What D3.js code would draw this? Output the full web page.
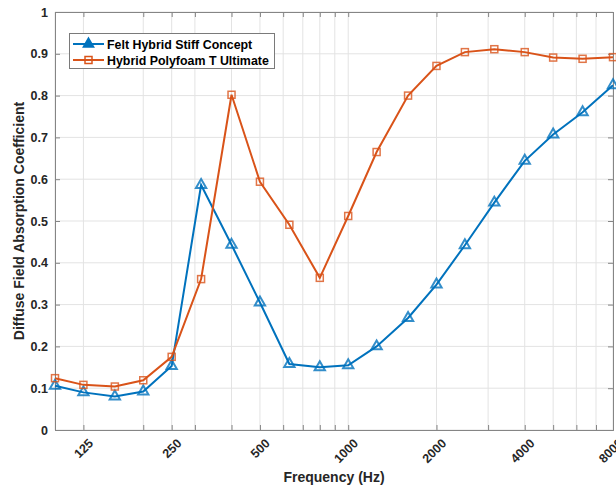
<!DOCTYPE html>
<html><head><meta charset="utf-8">
<script src="https://cdn.jsdelivr.net/npm/d3@7"></script>
<style>body{margin:0;background:#fff;}svg{display:block;font-family:"Liberation Sans",Arial,sans-serif;}</style>
</head><body>
<script>
const frequencies = [100,125,160,200,250,315,400,500,630,800,1000,1250,1600,2000,2500,3150,4000,5000,6300,8000];
const feltHybrid = [0.106,0.090,0.080,0.092,0.153,0.586,0.443,0.305,0.158,0.150,0.155,0.200,0.268,0.348,0.442,0.544,0.644,0.707,0.760,0.825];
const hybridPolyfoam = [0.124,0.108,0.104,0.119,0.175,0.361,0.802,0.594,0.491,0.364,0.512,0.665,0.800,0.871,0.904,0.911,0.904,0.891,0.888,0.892];
const xTickLabels = [125,250,500,1000,2000,4000,8000];
const yTicks = [0,0.1,0.2,0.3,0.4,0.5,0.6,0.7,0.8,0.9,1];
const seriesNames = ["Felt Hybrid Stiff Concept","Hybrid Polyfoam T Ultimate"];

const W=616,H=489;
const m={l:55,r:3,t:12,b:59};
const svg=d3.select("body").append("svg").attr("width",W).attr("height",H);
const x=d3.scaleLog().domain([100,8000]).range([m.l,W-m.r]);
const y=d3.scaleLinear().domain([0,1]).range([H-m.b,m.t]);
const x0=m.l,x1=W-m.r,y0=H-m.b,y1=m.t;

const minor=[];
[100,1000].forEach(d=>{for(let k=1;k<10;k++){const v=d*k;if(v>=100&&v<=8000)minor.push(v);}});
const allX=Array.from(new Set(minor.concat(xTickLabels))).sort((a,b)=>a-b);

const g=svg.append("g");
g.selectAll("line.gx").data(allX).join("line")
 .attr("x1",d=>x(d)).attr("x2",d=>x(d)).attr("y1",y0).attr("y2",y1)
 .attr("stroke","#e3e3e3").attr("stroke-width",1);
g.selectAll("line.gy").data(yTicks).join("line")
 .attr("y1",d=>y(d)).attr("y2",d=>y(d)).attr("x1",x0).attr("x2",x1)
 .attr("stroke","#e3e3e3").attr("stroke-width",1);

const axCol="#858585";
const xb=d3.axisBottom(x).tickValues(allX).tickSize(-5).tickFormat(d=>xTickLabels.includes(d)?d:"");
const xt=d3.axisTop(x).tickValues(allX).tickSize(-5).tickFormat("");
const yl=d3.axisLeft(y).tickValues(yTicks).tickSize(-5).tickFormat(d=>d===0||d===1?d3.format("d")(d):d3.format(".1f")(d));
const yr=d3.axisRight(y).tickValues(yTicks).tickSize(-5).tickFormat("");
function style(sel){sel.select(".domain").attr("stroke",axCol);sel.selectAll(".tick line").attr("stroke",axCol);sel.selectAll("text").attr("fill","#262626").attr("font-size",12.5).attr("font-weight","bold").attr("font-family","'Liberation Sans',Arial,sans-serif");}
const gxb=svg.append("g").attr("transform",`translate(0,${y0})`).call(xb).call(style);
gxb.selectAll(".tick text").attr("text-anchor","end").attr("dx",0).attr("dy",0)
 .attr("transform","translate(8,12) rotate(-45)");
svg.append("g").attr("transform",`translate(0,${y1})`).call(xt).call(style);
const gyl=svg.append("g").attr("transform",`translate(${x0},0)`).call(yl).call(style);
gyl.selectAll(".tick text").attr("x",-7);
svg.append("g").attr("transform",`translate(${x1},0)`).call(yr).call(style);
svg.selectAll(".domain").attr("stroke-width",1);

const blue="#0072BD",orange="#D95319";
const line=d3.line().x(d=>x(d[0])).y(d=>y(d[1]));
const s1=frequencies.map((f,i)=>[f,feltHybrid[i]]);
const s2=frequencies.map((f,i)=>[f,hybridPolyfoam[i]]);
const tri=d3.symbol().type(d3.symbolTriangle).size(46);
function drawS(data,col,kind){
  svg.append("path").datum(data).attr("d",line).attr("fill","none").attr("stroke",col).attr("stroke-width",2);
  const mk=svg.append("g");
  if(kind==="tri"){
    mk.selectAll("path").data(data).join("path").attr("d",tri)
      .attr("transform",d=>`translate(${x(d[0])},${y(d[1])})`)
      .attr("fill","none").attr("stroke",col).attr("stroke-width",2).attr("stroke-opacity",0.8);
  } else {
    mk.selectAll("rect").data(data).join("rect")
      .attr("x",d=>x(d[0])-3.5).attr("y",d=>y(d[1])-3.5).attr("width",7).attr("height",7)
      .attr("fill","none").attr("stroke",col).attr("stroke-width",1.5).attr("stroke-opacity",0.8);
  }
}
drawS(s1,blue,"tri");
drawS(s2,orange,"sq");

svg.append("text").attr("x",(x0+x1)/2).attr("y",482).attr("text-anchor","middle")
 .attr("font-size",14).attr("font-weight","bold").attr("fill","#262626").text("Frequency (Hz)");
svg.append("text").attr("transform",`translate(24,${(y0+y1)/2}) rotate(-90)`).attr("text-anchor","middle")
 .attr("font-size",14).attr("font-weight","bold").attr("fill","#262626").text("Diffuse Field Absorption Coefficient");

const lg=svg.append("g");
lg.append("rect").attr("x",69.5).attr("y",33.5).attr("width",205).attr("height",35).attr("fill","#fff").attr("stroke","#7a7a7a").attr("stroke-width",1);
const cols=[blue,orange],kinds=["tri","sq"];
seriesNames.forEach((n,i)=>{
  const yy=44+i*16;
  lg.append("line").attr("x1",73).attr("x2",104).attr("y1",yy).attr("y2",yy).attr("stroke",cols[i]).attr("stroke-width",2);
  if(kinds[i]==="tri") lg.append("path").attr("d",tri).attr("transform",`translate(88.5,${yy})`).attr("fill",cols[i]).attr("stroke",cols[i]).attr("stroke-width",1.5);
  else lg.append("rect").attr("x",85).attr("y",yy-3.5).attr("width",7).attr("height",7).attr("fill","none").attr("stroke",cols[i]).attr("stroke-width",1.5);
  lg.append("text").attr("x",107).attr("y",yy+4.5).attr("font-size",12.4).attr("font-weight","bold").attr("fill","#000").text(n);
});
</script>
</body></html>
